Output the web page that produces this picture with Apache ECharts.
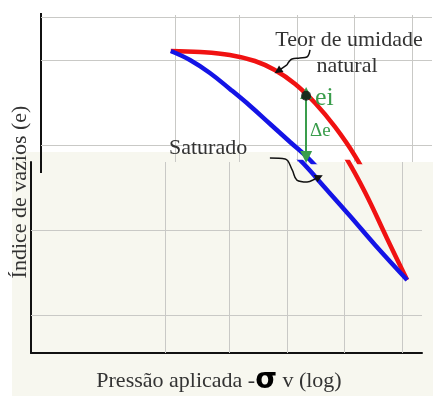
<!DOCTYPE html>
<html>
<head>
<meta charset="utf-8">
<script src="https://cdn.jsdelivr.net/npm/echarts@6/dist/echarts.min.js"></script>
<style>html,body{margin:0;padding:0;background:#fff}#c{width:433px;height:396px}</style>
</head>
<body>
<div id="c"></div>
<script>
// x: log pressure (arbitrary units), y: void ratio e
const xGridLines = [34.4, 50.7, 65.6, 80.2, 95.0];
const eGridTop = [0.9, 0.8];
const eGridBottom = [0.7, 0.6];
const eTopBorder = 0.9529;

const redX = [33.2, 40.7, 48.3, 54.7, 59.8, 65.0, 70.1, 75.2, 80.3, 85.4, 91.0, 96.2];
const redE = [0.9106, 0.9094, 0.9059, 0.8988, 0.8882, 0.8718, 0.8494, 0.8212, 0.7871, 0.7447, 0.6906, 0.6412];

const blueX = [33.2, 38.1, 43.2, 48.3, 53.5, 58.6, 63.7, 68.8, 75.7, 81.6, 88.0, 96.2];
const blueE = [0.9106, 0.9000, 0.8847, 0.8659, 0.8459, 0.8247, 0.8035, 0.7824, 0.7471, 0.7165, 0.6824, 0.6412];

// annotation pointers
const noteNatX = [68.8, 68.0, 66.2, 64.2, 62.9];
const noteNatE = [0.9118, 0.9035, 0.9024, 0.9012, 0.8941];
const noteNatHead = [[62.9, 0.8941], [60.6, 0.8870]];

const noteSatX = [61.1, 65.0, 66.8, 68.0, 70.6, 72.1];
const noteSatE = [0.7847, 0.7835, 0.7706, 0.7588, 0.7565, 0.7588];
const noteSatHead = [[72.1, 0.7588], [73.7, 0.7624]];

const eiPoint = [67.8, 0.858];
const deltaArrow = [[67.8, 0.8612], [67.8, 0.7859]];

const texts = {
  natural1: 'Teor de umidade',
  natural2: 'natural',
  saturado: 'Saturado',
  ei: 'ei',
  de: 'Δe',
  yName: 'Índice de vazios (e)',
  xName1: 'Pressão aplicada -',
  xSigma: 'σ',
  xName2: ' v (log)'
};

const zip = (a, b) => a.map((v, i) => [v, b[i]]);

const RED = '#f01212', BLUE = '#1414e6', GREEN = '#3a9d4c', GRID = '#c9c9c6', INK = '#333';
const serif = '"Liberation Serif", "DejaVu Serif", serif';

function gridMarks(eVals) {
  return {
    silent: true, symbol: ['none', 'none'], label: { show: false },
    lineStyle: { color: GRID, width: 1, type: 'solid' },
    animation: false,
    data: xGridLines.map(v => ({ xAxis: v })).concat(eVals.map(v => ({ yAxis: v })))
  };
}

function curve(name, xs, es, color, gi) {
  return {
    type: 'line', name, xAxisIndex: gi, yAxisIndex: gi,
    data: zip(xs, es), smooth: 0.4, showSymbol: false, clip: true,
    lineStyle: { color, width: 4.5 }, z: 5
  };
}

const chart = echarts.init(document.getElementById('c'), null, { renderer: 'canvas' });
const axisBlack = { show: true, lineStyle: { color: '#111', width: 2 } };
chart.setOption({
  animation: false,
  backgroundColor: '#ffffff',
  grid: [
    { left: 41, top: 15, width: 391, height: 147 },
    { left: 31, top: 162, width: 391, height: 191 }
  ],
  xAxis: [
    { type: 'value', gridIndex: 0, min: 0, max: 100, show: false },
    { type: 'value', gridIndex: 1, min: 0, max: 100, axisLine: axisBlack, axisTick: { show: false }, axisLabel: { show: false }, splitLine: { show: false } }
  ],
  yAxis: [
    { type: 'value', gridIndex: 0, min: 0.7800, max: eTopBorder, axisLine: axisBlack, axisTick: { show: false }, axisLabel: { show: false }, splitLine: { show: false } },
    { type: 'value', gridIndex: 1, min: 0.5553, max: 0.7800, axisLine: axisBlack, axisTick: { show: false }, axisLabel: { show: false }, splitLine: { show: false } }
  ],
  series: [
    { type: 'line', xAxisIndex: 0, yAxisIndex: 0, data: [], z: 1, markLine: gridMarks(eGridTop.concat([eTopBorder])) },
    { type: 'line', xAxisIndex: 1, yAxisIndex: 1, data: [], z: 1, markLine: gridMarks(eGridBottom) },
    curve('natural', redX, redE, RED, 0),
    curve('natural', redX, redE, RED, 1),
    curve('saturado', blueX, blueE, BLUE, 0),
    curve('saturado', blueX, blueE, BLUE, 1),
    { type: 'line', xAxisIndex: 0, yAxisIndex: 0, data: zip(noteNatX, noteNatE), smooth: 0.4, showSymbol: false, clip: false, lineStyle: { color: '#111', width: 1.5 }, z: 6 },
    { type: 'lines', coordinateSystem: 'cartesian2d', xAxisIndex: 0, yAxisIndex: 0, clip: false, symbol: ['none', 'triangle'], symbolSize: 8, lineStyle: { color: '#111', width: 1.5, opacity: 1 }, data: [{ coords: noteNatHead }], z: 6 },
    { type: 'line', xAxisIndex: 1, yAxisIndex: 1, data: zip(noteSatX, noteSatE), smooth: 0.4, showSymbol: false, clip: false, lineStyle: { color: '#111', width: 1.5 }, z: 6 },
    { type: 'lines', coordinateSystem: 'cartesian2d', xAxisIndex: 1, yAxisIndex: 1, clip: false, symbol: ['none', 'triangle'], symbolSize: 8, lineStyle: { color: '#111', width: 1.5, opacity: 1 }, data: [{ coords: noteSatHead }], z: 6 },
    { type: 'lines', coordinateSystem: 'cartesian2d', xAxisIndex: 0, yAxisIndex: 0, clip: false, symbol: ['triangle', 'triangle'], symbolSize: 12, lineStyle: { color: GREEN, width: 2, opacity: 1 }, data: [{ coords: deltaArrow }], z: 7 },
    { type: 'scatter', xAxisIndex: 0, yAxisIndex: 0, data: [eiPoint], symbolSize: 10, itemStyle: { color: '#111' }, z: 8 }
  ],
  graphic: [
    { type: 'polygon', z: -10, silent: true, shape: { points: [[12, 152], [290, 152], [290, 162], [433, 162], [433, 396], [12, 396]] }, style: { fill: '#f7f7ef' } },
    { type: 'line', z: -5, silent: true, shape: { x1: 41, y1: 13, x2: 41, y2: 173 }, style: { stroke: '#111', lineWidth: 2 } },
    { type: 'text', z: 10, style: { text: texts.natural1, x: 349, y: 40, textAlign: 'center', textVerticalAlign: 'middle', font: '22px ' + serif, fill: INK } },
    { type: 'text', z: 10, style: { text: texts.natural2, x: 347, y: 66, textAlign: 'center', textVerticalAlign: 'middle', font: '22px ' + serif, fill: INK } },
    { type: 'text', z: 10, style: { text: texts.saturado, x: 169, y: 148, textAlign: 'left', textVerticalAlign: 'middle', font: '22px ' + serif, fill: INK } },
    { type: 'text', z: 10, style: { text: texts.ei, x: 315, y: 98, textAlign: 'left', textVerticalAlign: 'middle', font: '26px ' + serif, fill: GREEN } },
    { type: 'text', z: 10, style: { text: texts.de, x: 310, y: 131, textAlign: 'left', textVerticalAlign: 'middle', font: '19px ' + serif, fill: GREEN } },
    { type: 'text', z: 10, x: 20, y: 192, rotation: Math.PI / 2, style: { text: texts.yName, x: 0, y: 0, textAlign: 'center', textVerticalAlign: 'middle', font: '22px ' + serif, fill: INK } },
    { type: 'text', z: 10, style: {
      x: 219, y: 381, textAlign: 'center', textVerticalAlign: 'middle',
      text: '{a|' + texts.xName1 + '}{s|' + texts.xSigma + '}{a|' + texts.xName2 + '}',
      rich: {
        a: { font: '22px ' + serif, fill: INK, color: INK },
        s: { font: 'bold 28px "DejaVu Sans", sans-serif', fill: '#000', color: '#000' }
      }
    } }
  ]
});
</script>
</body>
</html>
